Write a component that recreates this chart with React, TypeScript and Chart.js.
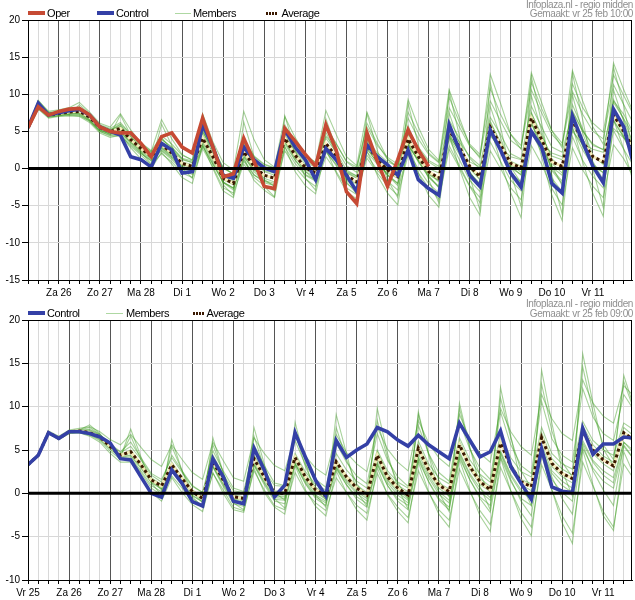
import React, { useEffect, useRef } from 'react';
import { Chart, registerables } from 'chart.js';

Chart.register(...registerables);

const FONT = '"Liberation Sans", Arial, Helvetica, sans-serif';

// ---------- axis labels ----------
const DAY_LABELS = ['Vr 25', 'Za 26', 'Zo 27', 'Ma 28', 'Di 1', 'Wo 2', 'Do 3', 'Vr 4', 'Za 5', 'Zo 6', 'Ma 7', 'Di 8', 'Wo 9', 'Do 10', 'Vr 11'];
const Y_TICK_STEP = 5;

// ---------- top panel (run vr 25 feb 10:00, first value Vr 25 06:00, 6-hourly) ----------
const TOP_OPER = [5.5, 8.3, 7.2, 7.7, 8.0, 8.1, 7.2, 5.6, 5.0, 4.8, 4.8, 3.4, 1.6, 4.3, 4.8, 2.9, 2.1, 6.8, 2.9, -1.1, -0.7, 4.1, 1.0, -2.4, -2.7, 5.4, 3.7, 1.9, 0.3, 5.9, 2.5, -3.1, -4.7, 4.8, 1.0, -2.4, 1.2, 5.2, 2.5, 0.3];
const TOP_CONTROL = [5.5, 8.8, 7.2, 7.5, 7.8, 8.0, 7.2, 5.6, 5.0, 4.5, 1.6, 1.2, 0.2, 3.4, 2.5, -0.6, -0.4, 5.9, 2.9, -0.9, -1.3, 2.9, 1.2, 0.1, -0.4, 5.2, 2.9, 1.2, -1.5, 2.7, 1.2, -0.9, -3.1, 3.2, 1.6, 0.5, -0.9, 2.5, -1.5, -2.7, -3.6, 5.9, 2.5, -0.9, -2.4, 5.2, 2.5, -0.6, -2.5, 5.0, 2.9, -2.0, -3.3, 7.1, 3.6, 0.3, -1.9, 8.0, 5.6, 0.3];
const TOP_AVERAGE = [5.5, 8.5, 7.2, 7.4, 7.6, 7.7, 6.9, 5.5, 5.0, 5.4, 3.9, 2.7, 1.6, 3.2, 2.1, 0.7, 0.3, 4.1, 1.6, -1.3, -2.0, 2.3, 0.3, -0.9, -1.3, 4.1, 1.8, 0.1, -0.6, 3.4, 1.6, -0.9, -1.8, 3.2, 1.2, -0.2, -1.1, 4.0, 1.6, -0.4, -1.3, 5.2, 2.9, 0.3, -1.1, 5.6, 3.2, 0.7, 0.1, 6.8, 3.9, 0.9, 0.3, 6.5, 3.6, 1.6, 0.9, 7.2, 5.0, 2.5];

const TOP_M01 = [5.6, 8.9, 7.5, 7.6, 7.9, 8.3, 7.3, 5.9, 5.4, 6.2, 4.6, 3.5, 2.4, 4.4, 3.3, 1.8, 1.2, 5.6, 2.8, 0.2, -0.8, 4.1, 1.7, 0.6, 0.1, 5.9, 3.4, 1.6, 0.9, 5.3, 3.3, 1.0, 0.2, 5.6, 3.1, 1.5, 0.6, 6.8, 4.0, 1.9, 0.8, 8.2, 5.6, 3.0, 1.6, 9.1, 6.4, 3.8, 2.7, 10.6, 7.5, 4.6, 3.1, 10.4, 7.3, 5.0, 4.0, 11.3, 8.6, 5.9];
const TOP_M02 = [5.3, 8.2, 7.0, 7.1, 7.2, 7.1, 6.4, 5.0, 4.5, 4.6, 3.0, 1.8, 0.5, 2.0, 0.9, -0.6, -1.2, 2.7, 0.2, -2.6, -3.3, 0.6, -1.2, -2.3, -3.0, 2.4, 0.2, -1.4, -2.4, 1.6, -0.4, -2.6, -3.5, 1.4, -0.6, -2.3, -3.6, 1.8, -0.6, -2.6, -4.1, 2.6, 0.1, -2.4, -4.6, 2.4, 0.0, -2.6, -4.2, 3.1, 0.6, -2.7, -4.9, 2.8, -0.2, -2.4, -3.9, 3.2, 1.3, -1.2];
const TOP_M03 = [5.5, 8.7, 7.3, 7.4, 7.6, 8.0, 7.1, 5.6, 5.1, 5.9, 4.0, 2.6, 1.3, 4.2, 2.4, 0.4, -0.3, 5.3, 1.9, -1.9, -2.9, 3.3, 0.6, -1.5, -2.4, 5.4, 2.1, -0.4, -1.6, 4.9, 2.0, -1.4, -2.7, 4.6, 1.4, -0.9, -2.3, 5.8, 2.2, -0.9, -2.6, 7.5, 3.4, -0.4, -2.6, 8.4, 4.2, 0.2, -1.9, 9.8, 5.1, 0.4, -2.3, 9.9, 4.8, 0.9, -1.5, 10.6, 6.3, 2.1];
const TOP_M04 = [5.4, 8.4, 7.1, 7.3, 7.5, 7.4, 6.6, 5.2, 4.8, 5.0, 3.6, 2.4, 1.5, 2.8, 1.6, 0.5, 0.3, 3.6, 1.2, -1.1, -1.7, 1.6, -0.2, -1.0, -1.1, 3.6, 1.5, 0.1, -0.4, 3.0, 1.5, -0.5, -1.2, 2.6, 0.9, 0.1, -0.4, 3.1, 1.2, 0.0, -0.6, 4.3, 2.5, 0.9, 0.2, 4.4, 2.8, 1.6, 1.2, 5.2, 3.4, 2.1, 1.6, 5.0, 3.3, 2.6, 2.2, 5.4, 4.1, 3.3];
const TOP_M05 = [5.7, 9.2, 7.6, 7.5, 7.3, 8.6, 7.4, 5.3, 4.6, 7.2, 4.5, 2.2, 0.6, 6.0, 3.1, 0.1, -1.3, 7.2, 2.4, -2.2, -3.6, 6.3, 1.6, -2.4, -3.8, 7.1, 2.6, -1.3, -2.9, 6.7, 2.7, -1.8, -3.4, 7.4, 2.5, -1.5, -3.9, 8.8, 3.2, -1.5, -4.6, 10.4, 4.4, -1.1, -5.6, 11.6, 5.6, -0.6, -5.1, 12.4, 6.2, -0.9, -6.1, 12.8, 6.6, -0.2, -5.2, 13.6, 8.5, 1.4];
const TOP_M06 = [5.5, 8.6, 7.2, 7.5, 7.7, 7.6, 6.8, 5.4, 4.9, 5.2, 3.9, 2.8, 1.9, 3.1, 2.0, 0.9, 0.5, 3.9, 1.8, -0.9, -1.5, 2.6, 0.8, -0.3, -0.6, 4.6, 2.4, 0.8, 0.2, 2.9, 1.3, -0.4, -1.0, 2.2, 0.6, -0.6, -1.3, 3.2, 1.0, -0.8, -1.6, 4.2, 1.9, -0.6, -2.0, 4.6, 2.6, 0.1, -0.8, 6.6, 4.3, 1.7, 1.2, 7.8, 5.1, 3.1, 2.6, 8.9, 6.7, 4.3];
const TOP_M07 = [5.4, 8.3, 7.0, 7.2, 7.4, 7.3, 6.5, 5.1, 4.7, 4.8, 3.4, 2.1, 1.0, 2.5, 1.4, 0.0, -0.4, 3.1, 0.6, -1.9, -2.6, 1.2, -0.8, -1.9, -2.3, 2.9, 0.7, -0.9, -1.7, 2.7, 0.9, -1.6, -2.6, 3.5, 1.6, 0.4, -0.3, 5.1, 2.9, 1.1, 0.3, 6.5, 4.1, 1.4, -0.1, 6.1, 3.6, 1.0, 0.3, 6.0, 3.2, 0.2, -0.9, 5.4, 2.5, 0.3, -0.5, 6.4, 4.2, 1.6];
const TOP_M08 = [5.6, 8.8, 7.4, 7.6, 7.8, 8.0, 7.2, 5.8, 5.3, 5.6, 4.2, 3.0, 1.9, 3.6, 2.5, 1.2, 0.8, 4.6, 2.1, -0.7, -1.3, 2.9, 0.9, -0.4, -0.9, 4.4, 2.2, 0.5, -0.2, 4.1, 2.2, -0.2, -1.0, 4.0, 2.1, 0.9, 0.3, 4.6, 2.6, 0.9, 0.0, 5.4, 3.6, 1.6, 0.4, 6.9, 4.6, 2.0, 1.3, 8.4, 5.6, 2.9, 2.2, 7.6, 5.0, 3.3, 2.5, 9.1, 7.3, 4.6];
const TOP_M09 = [5.4, 8.3, 7.0, 7.2, 7.5, 7.5, 6.6, 5.2, 4.6, 4.9, 3.5, 2.3, 1.2, 2.7, 1.5, 0.2, -0.2, 3.4, 0.9, -1.8, -2.6, 1.7, -0.4, -1.7, -2.2, 3.6, 1.2, -0.8, -1.5, 2.4, 0.4, -2.0, -3.0, 1.8, -0.2, -1.7, -2.9, 2.2, 0.0, -2.0, -3.3, 3.1, 0.4, -2.3, -3.9, 3.6, 1.0, -1.6, -3.0, 4.9, 2.2, -1.3, -3.1, 4.3, 1.1, -1.1, -2.6, 5.1, 2.6, 0.2];
const TOP_M10 = [5.5, 8.5, 7.2, 7.3, 7.6, 7.9, 7.0, 5.6, 5.1, 5.7, 4.3, 3.1, 2.2, 3.9, 2.9, 1.4, 1.0, 4.9, 2.6, 0.1, -0.7, 3.6, 1.6, 0.5, 0.0, 5.0, 2.8, 1.2, 0.5, 4.4, 2.6, 0.4, -0.5, 3.9, 1.8, 0.4, -0.7, 3.6, 1.4, -0.5, -1.6, 4.6, 2.3, 0.0, -1.4, 5.4, 3.0, 0.6, -0.5, 7.4, 4.6, 1.3, 0.1, 8.6, 5.4, 1.8, 0.6, 9.3, 6.6, 3.1];
const TOP_M11 = [5.3, 8.1, 6.9, 7.1, 7.3, 7.2, 6.4, 5.0, 4.4, 4.4, 3.2, 2.0, 1.1, 2.4, 1.2, -0.2, -0.8, 3.0, 0.6, -1.8, -2.7, 1.0, -0.9, -1.6, -2.0, 3.8, 1.5, 0.2, -0.3, 3.2, 1.5, -0.6, -1.3, 3.7, 1.8, 0.1, -0.8, 4.2, 1.8, -0.6, -1.8, 4.0, 1.2, -1.6, -3.1, 5.1, 2.3, -0.6, -1.8, 7.1, 3.5, -0.1, -1.7, 6.4, 3.1, 0.6, -0.6, 7.3, 4.4, 1.8];
const TOP_M12 = [5.6, 8.9, 7.5, 7.7, 7.9, 8.1, 7.2, 5.7, 5.2, 6.0, 4.6, 3.2, 2.1, 4.0, 2.8, 1.3, 0.8, 5.0, 2.6, 0.0, -0.7, 3.4, 1.2, 0.1, -0.3, 5.6, 3.1, 1.1, 0.3, 5.6, 3.4, 0.9, -0.1, 6.1, 3.4, 1.2, 0.1, 7.6, 4.8, 2.1, 0.9, 9.6, 6.2, 3.3, 1.9, 10.8, 7.3, 4.6, 3.1, 11.6, 8.1, 5.1, 3.4, 11.4, 8.2, 6.1, 4.9, 12.6, 9.8, 7.1];
const TOP_M13 = [5.5, 8.6, 7.3, 7.4, 7.6, 7.8, 6.9, 5.5, 4.9, 5.3, 3.7, 2.5, 1.5, 3.0, 1.9, 0.6, 0.1, 3.8, 1.3, -1.4, -2.2, 1.9, -0.1, -1.3, -1.8, 3.3, 1.1, -0.4, -1.2, 2.2, 0.6, -1.3, -2.1, 2.7, 0.8, -0.8, -2.0, 3.3, 0.9, -1.1, -2.4, 5.8, 2.8, 0.1, -1.5, 6.4, 3.4, 0.4, -0.9, 7.6, 4.0, 0.7, -0.6, 6.9, 3.9, 1.6, 0.6, 7.8, 5.3, 2.6];
const TOP_M14 = [5.4, 8.4, 7.1, 7.2, 7.4, 7.5, 6.7, 5.3, 4.9, 5.1, 3.6, 2.6, 1.7, 2.9, 1.8, 0.5, 0.2, 4.3, 1.4, -1.5, -2.1, 2.1, 0.1, -1.0, -1.4, 3.9, 1.5, -0.2, -0.8, 3.3, 1.4, -1.0, -2.0, 2.9, 0.8, -0.9, -2.0, 3.6, 1.1, -1.2, -2.5, 4.7, 2.2, -0.5, -2.2, 5.2, 2.5, -0.6, -2.0, 6.2, 3.3, -0.3, -2.0, 6.1, 3.0, 0.1, -1.8, 6.6, 4.2, 1.3];
const TOP_M15 = [5.2, 8.0, 6.8, 7.0, 7.1, 7.0, 6.2, 4.8, 4.2, 4.5, 2.8, 1.3, 0.0, 2.2, 0.6, -1.2, -2.0, 3.2, 0.0, -3.0, -3.9, 1.5, -1.6, -2.9, -3.9, 3.0, -0.4, -2.3, -3.4, 2.6, -0.6, -3.1, -4.1, 2.4, -0.9, -3.3, -4.9, 3.4, -0.6, -3.6, -5.2, 4.6, 0.0, -3.9, -6.3, 5.6, 0.9, -3.3, -6.6, 6.6, 1.6, -3.6, -7.0, 5.7, 0.9, -3.4, -6.4, 6.6, 2.6, -2.1];
const TOP_M16 = [5.6, 9.1, 7.7, 7.9, 8.2, 8.9, 7.6, 6.1, 5.6, 7.4, 5.2, 3.4, 2.3, 6.6, 4.0, 1.9, 1.1, 7.4, 3.6, 0.8, -0.2, 7.7, 3.9, 1.2, 0.2, 7.0, 4.2, 1.9, 0.8, 7.8, 4.6, 1.6, 0.4, 7.6, 4.1, 1.3, 0.2, 9.3, 5.6, 2.6, 1.1, 10.6, 6.8, 3.1, 1.4, 12.7, 8.8, 4.6, 2.6, 12.9, 8.9, 5.1, 2.8, 13.2, 9.1, 5.6, 3.3, 14.2, 10.6, 7.3];
const TOP_MEMBERS = [TOP_M01, TOP_M02, TOP_M03, TOP_M04, TOP_M05, TOP_M06, TOP_M07, TOP_M08, TOP_M09, TOP_M10, TOP_M11, TOP_M12, TOP_M13, TOP_M14, TOP_M15, TOP_M16];

// ---------- bottom panel (run vr 25 feb 09:00, first value Vr 25 00:00, 6-hourly) ----------
const BOT_CONTROL = [3.3, 4.4, 7.0, 6.35, 7.1, 7.1, 6.9, 6.5, 5.8, 4.0, 3.85, 1.9, 0.0, -0.45, 2.7, 1.15, -0.95, -1.45, 4.0, 1.9, -0.9, -1.2, 5.2, 2.7, -0.4, 0.95, 7.0, 4.2, 1.5, -0.3, 6.1, 4.15, 5.0, 5.7, 7.6, 7.1, 6.15, 5.45, 6.7, 5.6, 4.8, 4.0, 8.1, 6.15, 4.2, 4.8, 7.2, 3.1, 1.15, -0.7, 5.1, 0.75, 0.25, 0.1, 7.5, 4.5, 5.7, 5.7, 6.5, 6.35];
const BOT_AVERAGE = [3.3, 4.4, 7.0, 6.35, 7.1, 7.2, 7.0, 6.5, 5.4, 4.4, 4.8, 3.3, 1.55, 0.85, 3.3, 1.7, 0.2, -0.6, 3.65, 1.55, -0.4, -0.6, 4.0, 1.9, 0.0, 0.0, 4.15, 1.9, 0.4, -0.3, 3.65, 1.9, 0.6, -0.2, 4.4, 1.9, 0.6, -0.2, 5.2, 2.7, 0.95, 0.2, 5.6, 3.1, 1.35, 0.4, 5.8, 3.1, 1.35, 0.75, 6.45, 3.45, 2.3, 1.7, 7.2, 5.0, 3.85, 3.15, 7.0, 6.15];

const BOT_M01 = [3.3, 4.4, 7.0, 6.4, 7.1, 7.2, 7.3, 6.7, 5.6, 4.7, 5.4, 3.9, 2.1, 1.3, 4.4, 2.6, 0.9, 0.1, 4.9, 2.6, 0.6, 0.2, 5.6, 3.2, 1.2, 0.9, 6.1, 3.3, 1.6, 0.7, 5.8, 3.6, 2.0, 1.1, 6.9, 3.8, 1.9, 0.8, 7.8, 4.6, 2.4, 1.4, 8.3, 5.1, 2.9, 1.6, 9.4, 5.6, 3.2, 2.3, 10.6, 6.3, 4.4, 3.6, 12.1, 8.8, 6.9, 6.1, 11.4, 9.6];
const BOT_M02 = [3.2, 4.3, 6.9, 6.2, 6.9, 7.0, 6.7, 6.1, 4.9, 3.9, 3.9, 2.4, 0.6, -0.2, 2.0, 0.6, -0.9, -1.6, 2.3, 0.4, -1.6, -2.0, 2.6, 0.4, -1.4, -1.9, 2.4, 0.2, -1.1, -2.0, 1.8, 0.1, -1.4, -2.3, 2.3, -0.1, -1.6, -2.8, 2.6, 0.1, -1.9, -3.1, 2.8, 0.2, -2.0, -3.6, 3.0, 0.3, -2.2, -3.9, 3.3, 0.4, -2.6, -4.6, 3.6, 0.8, -2.1, -3.9, 3.4, 1.6];
const BOT_M03 = [3.3, 4.4, 7.1, 6.4, 7.2, 7.3, 7.9, 6.9, 5.3, 4.2, 7.4, 4.2, 1.2, -0.2, 6.2, 2.6, -0.4, -1.6, 6.4, 2.4, -1.1, -1.9, 7.6, 3.4, -0.6, -1.7, 8.2, 3.6, -0.2, -1.6, 9.1, 4.6, 0.2, -1.5, 9.8, 4.6, 0.6, -1.8, 9.4, 4.4, 0.1, -2.1, 10.4, 5.4, 0.8, -1.9, 12.2, 6.6, 1.1, -1.4, 14.2, 8.1, 2.6, -0.3, 16.1, 10.4, 5.1, 3.2, 13.6, 9.9];
const BOT_M04 = [3.3, 4.4, 7.0, 6.3, 7.1, 7.2, 7.0, 6.5, 5.4, 4.5, 4.6, 3.3, 1.6, 0.9, 3.0, 1.5, 0.0, -0.7, 3.3, 1.3, -0.6, -0.9, 3.6, 1.6, -0.3, -0.4, 3.8, 1.6, 0.1, -0.7, 3.2, 1.5, 0.2, -0.6, 4.0, 1.5, 0.1, -0.8, 4.6, 2.1, 0.2, -0.8, 4.8, 2.3, 0.6, -0.5, 4.9, 2.2, 0.4, -0.4, 5.6, 2.6, 1.4, 0.6, 6.1, 3.8, 2.6, 1.8, 5.9, 4.9];
const BOT_M05 = [3.4, 4.5, 7.1, 6.5, 7.2, 7.3, 7.4, 6.8, 5.7, 4.8, 5.9, 4.1, 2.3, 1.6, 4.1, 2.4, 0.8, 0.1, 4.4, 2.2, 0.3, 0.1, 4.4, 2.6, 0.9, 0.8, 4.6, 2.5, 1.0, 0.4, 4.6, 2.7, 1.4, 0.6, 5.0, 2.6, 1.3, 0.6, 6.0, 3.4, 1.8, 1.1, 6.4, 3.9, 2.2, 1.3, 6.8, 4.1, 2.5, 1.9, 7.6, 4.6, 3.4, 2.8, 8.3, 6.1, 5.0, 4.4, 8.1, 7.3];
const BOT_M06 = [3.2, 4.3, 6.9, 6.3, 7.0, 7.1, 6.8, 6.2, 5.1, 4.1, 4.1, 2.6, 0.9, 0.2, 2.6, 0.9, -0.6, -1.4, 3.0, 0.8, -1.2, -1.5, 3.2, 1.0, -0.9, -1.2, 3.4, 1.1, -0.6, -1.4, 3.0, 1.0, -0.7, -1.6, 3.4, 0.9, -0.9, -1.9, 4.1, 1.3, -0.8, -1.9, 4.4, 1.6, -0.6, -2.2, 4.6, 1.6, -0.9, -2.6, 5.2, 1.9, -0.6, -2.4, 5.6, 2.6, 0.4, -1.4, 5.6, 3.9];
const BOT_M07 = [3.3, 4.4, 7.0, 6.4, 7.1, 7.2, 7.2, 6.6, 5.5, 4.5, 4.9, 3.4, 1.7, 1.0, 3.6, 1.9, 0.4, -0.4, 3.9, 1.8, -0.2, -0.4, 4.3, 2.1, 0.3, 0.2, 4.4, 2.2, 0.7, -0.1, 3.9, 2.1, 0.9, 0.1, 4.8, 2.3, 0.9, 0.2, 5.5, 3.0, 1.2, 0.5, 6.0, 3.4, 1.7, 0.8, 6.1, 3.4, 1.6, 1.1, 7.0, 4.0, 2.8, 2.1, 7.8, 5.6, 4.3, 3.6, 7.6, 6.6];
const BOT_M08 = [3.3, 4.4, 7.0, 6.3, 7.0, 7.1, 7.1, 6.4, 5.2, 4.3, 4.4, 3.0, 1.3, 0.6, 2.8, 1.2, -0.2, -1.0, 3.1, 1.0, -0.9, -1.2, 3.3, 1.2, -0.7, -0.8, 3.4, 1.2, -0.4, -1.1, 2.8, 1.0, -0.4, -1.2, 3.3, 0.9, -0.6, -1.4, 3.8, 1.4, -0.6, -1.6, 4.1, 1.6, -0.4, -1.4, 4.2, 1.4, -0.6, -1.4, 4.6, 1.6, 0.1, -0.9, 5.2, 2.9, 1.4, 0.6, 5.4, 3.9];
const BOT_M09 = [3.4, 4.5, 7.2, 6.6, 7.3, 7.5, 7.7, 7.1, 6.2, 5.6, 6.8, 5.3, 3.9, 3.1, 5.6, 3.9, 2.4, 1.6, 5.9, 3.8, 1.8, 1.4, 6.4, 4.6, 3.2, 2.6, 6.6, 4.3, 2.9, 2.1, 6.8, 4.7, 3.4, 2.5, 7.6, 5.1, 3.6, 2.6, 8.4, 5.8, 4.1, 3.1, 9.1, 6.3, 4.6, 3.6, 9.8, 7.1, 5.4, 4.4, 11.4, 8.6, 6.9, 6.1, 13.1, 10.4, 8.9, 8.1, 12.4, 11.2];
const BOT_M10 = [3.3, 4.4, 7.0, 6.4, 7.1, 7.2, 7.1, 6.5, 5.3, 4.4, 4.7, 3.2, 1.5, 0.7, 3.2, 1.6, 0.1, -0.6, 3.6, 1.4, -0.5, -0.7, 3.9, 1.7, -0.2, -0.2, 4.0, 1.7, 0.2, -0.5, 3.5, 1.7, 0.5, -0.4, 4.2, 1.6, 0.4, -0.6, 5.1, 2.4, 0.6, -0.3, 5.4, 2.8, 1.0, 0.2, 5.8, 2.8, 1.0, 0.3, 6.2, 3.1, 1.9, 1.2, 7.0, 4.6, 3.4, 2.6, 6.8, 5.9];
const BOT_M11 = [3.2, 4.3, 6.9, 6.2, 6.9, 7.0, 6.6, 5.9, 4.6, 3.6, 3.6, 2.0, 0.1, -0.9, 1.8, 0.1, -1.3, -2.1, 2.4, 0.0, -1.9, -2.2, 2.9, 0.1, -1.6, -2.4, 3.2, 0.4, -1.5, -2.6, 2.6, 0.1, -1.9, -3.1, 3.0, -0.2, -2.1, -3.4, 3.6, 0.2, -2.4, -3.9, 3.9, 0.4, -2.6, -4.4, 4.1, 0.3, -2.9, -4.9, 4.4, 0.4, -3.4, -5.8, 5.0, 1.0, -2.6, -4.3, 4.8, 2.1];
const BOT_M12 = [3.3, 4.4, 7.0, 6.3, 7.1, 7.2, 7.0, 6.4, 5.4, 4.4, 5.0, 3.4, 1.8, 1.0, 3.4, 1.8, 0.3, -0.4, 3.7, 1.6, -0.4, -0.6, 4.1, 1.9, 0.1, 0.1, 4.2, 1.9, 0.4, -0.3, 3.7, 1.9, 0.6, -0.2, 4.5, 2.0, 0.7, -0.1, 5.3, 2.7, 1.0, 0.3, 5.7, 3.1, 1.4, 0.5, 5.9, 3.2, 1.4, 0.9, 6.6, 3.6, 2.4, 1.8, 7.3, 5.1, 4.0, 3.3, 7.1, 6.3];
const BOT_M13 = [3.3, 4.4, 7.0, 6.4, 7.2, 7.3, 7.6, 6.8, 5.3, 4.3, 6.6, 3.9, 1.6, 0.4, 5.4, 2.6, 0.2, -1.0, 5.6, 2.4, -0.6, -1.2, 6.6, 2.9, 0.1, -0.8, 7.0, 3.1, 0.5, -0.7, 7.6, 3.9, 1.1, -0.4, 8.4, 4.1, 1.2, -0.6, 9.1, 4.6, 1.5, -0.4, 9.8, 5.3, 2.1, 0.1, 11.0, 6.4, 2.6, 0.6, 12.6, 7.2, 3.6, 1.9, 14.6, 9.4, 5.6, 3.9, 12.9, 9.6];
const BOT_M14 = [3.3, 4.4, 7.0, 6.3, 7.0, 7.1, 6.9, 6.3, 5.2, 4.2, 4.3, 2.9, 1.2, 0.5, 2.7, 1.1, -0.3, -1.0, 3.1, 1.1, -0.8, -1.1, 3.4, 1.3, -0.5, -0.6, 3.5, 1.4, -0.2, -0.9, 3.0, 1.3, 0.0, -0.9, 3.6, 1.2, -0.2, -1.1, 4.2, 1.8, -0.1, -1.1, 4.6, 2.1, 0.2, -0.8, 4.7, 2.0, 0.1, -0.6, 5.1, 2.3, 0.9, 0.1, 5.8, 3.6, 2.1, 1.2, 5.9, 4.6];
const BOT_MEMBERS = [BOT_M01, BOT_M02, BOT_M03, BOT_M04, BOT_M05, BOT_M06, BOT_M07, BOT_M08, BOT_M09, BOT_M10, BOT_M11, BOT_M12, BOT_M13, BOT_M14];

// ---------- styles ----------
const X_MAX = 58.8;
const OPER_COLOR = '#c64a34';
const CONTROL_COLOR = '#3440a6';
const MEMBER_COLOR = 'rgba(60,155,30,0.45)';
const AVG_DASH_COLOR = '#3a1800';
const AVG_BACK_COLOR = 'rgba(255,238,190,0.9)';
const DAY_GRID = '#555555';
const LIGHT_GRID = '#d8d8d8';

type PanelProps = {
  members: number[][];
  control: number[];
  average: number[];
  oper?: number[];
  yMin: number;
  yMax: number;
  shift: number; // steps (6h) from last midnight at index 0
};

function Panel({ members, control, average, oper, yMin, yMax, shift }: PanelProps) {
  const ref = useRef<HTMLCanvasElement | null>(null);

  useEffect(() => {
    if (!ref.current) return;
    const xy = (arr: number[]) => arr.map((v, i) => ({ x: i, y: v }));
    const line = (arr: number[], color: string, width: number, order: number, extra: any = {}) => ({
      data: xy(arr),
      borderColor: color,
      backgroundColor: color,
      borderWidth: width,
      pointRadius: 0,
      pointHoverRadius: 0,
      tension: 0,
      fill: false,
      clip: 0,
      order,
      ...extra,
    });
    const datasets: any[] = [];
    if (oper) datasets.push(line(oper, OPER_COLOR, 3.6, 0));
    datasets.push(line(control, CONTROL_COLOR, 3.6, 1));
    datasets.push(line(average, AVG_DASH_COLOR, 3, 2, { borderDash: [3, 3] }));
    datasets.push(line(average, AVG_BACK_COLOR, 3, 3));
    members.forEach((m) => datasets.push(line(m, MEMBER_COLOR, 1.1, 10)));

    const isDay = (v: number) => (Math.round(v) + shift) % 4 === 0;

    const framePlugin = {
      id: 'frame',
      afterDatasetsDraw(chart: any) {
        const { ctx, chartArea: a, scales } = chart;
        const y0 = scales.y.getPixelForValue(0);
        ctx.save();
        ctx.strokeStyle = '#000';
        ctx.lineWidth = 3;
        ctx.beginPath();
        ctx.moveTo(a.left, y0);
        ctx.lineTo(a.right, y0);
        ctx.stroke();
        ctx.lineWidth = 1;
        ctx.strokeRect(Math.round(a.left) + 0.5, Math.round(a.top) + 0.5, Math.round(a.right - a.left) - 1, Math.round(a.bottom - a.top));
        ctx.restore();
      },
    };

    const chart = new Chart(ref.current, {
      type: 'line',
      data: { datasets },
      options: {
        animation: false,
        responsive: false,
        maintainAspectRatio: false,
        events: [],
        layout: { padding: { top: 20, right: 3, left: 0, bottom: 0 } },
        plugins: { legend: { display: false }, tooltip: { enabled: false } },
        scales: {
          x: {
            type: 'linear',
            min: 0,
            max: X_MAX,
            afterFit: (s: any) => {
              s.height = 20;
            },
            ticks: {
              stepSize: 1,
              autoSkip: false,
              maxRotation: 0,
              minRotation: 0,
              includeBounds: false,
              padding: 3,
              color: '#000',
              font: { family: FONT, size: 10 },
              callback: (v: any) => {
                const n = Math.round(Number(v));
                if (!isDay(n)) return '';
                const d = (n + shift) / 4;
                return DAY_LABELS[d] ?? '';
              },
            },
            grid: {
              color: (c: any) => (c.tick && isDay(c.tick.value) ? DAY_GRID : LIGHT_GRID),
              lineWidth: 1,
              tickLength: 4,
              tickColor: '#000',
              drawTicks: true,
            },
            border: { display: true, color: '#000', width: 1 },
          },
          y: {
            type: 'linear',
            min: yMin,
            max: yMax,
            afterFit: (s: any) => {
              s.width = 28;
            },
            ticks: {
              stepSize: Y_TICK_STEP,
              padding: 2,
              color: '#000',
              font: { family: FONT, size: 10 },
              callback: (v: any) => String(v),
            },
            grid: {
              color: LIGHT_GRID,
              lineWidth: 1,
              tickLength: 6,
              tickColor: '#000',
            },
            border: { display: true, color: '#000', width: 1 },
          },
        },
      } as any,
      plugins: [framePlugin],
    });
    return () => chart.destroy();
  }, []);

  return <canvas ref={ref} width={635} height={300} style={{ display: 'block', width: 635, height: 300 }} />;
}

function Txt({ left, right, baseline, size, color, children }: any) {
  const asc = size * 0.905;
  const content = size * 1.117;
  const top = baseline - ((size - content) / 2 + asc);
  const style: any = {
    position: 'absolute',
    top,
    fontSize: size,
    lineHeight: `${size}px`,
    fontFamily: FONT,
    whiteSpace: 'nowrap',
    letterSpacing: '-0.4px',
    color: color || '#000',
  };
  if (right !== undefined) {
    style.right = right;
    style.textAlign = 'right';
  } else style.left = left;
  return <div style={style}>{children}</div>;
}

function Swatch({ left, top, width, height, color }: any) {
  return <div style={{ position: 'absolute', left, top, width, height, background: color }} />;
}

function Dots({ left, top }: any) {
  return (
    <div
      style={{
        position: 'absolute',
        left,
        top,
        width: 11,
        height: 3,
        background: `repeating-linear-gradient(90deg, ${AVG_DASH_COLOR} 0px, ${AVG_DASH_COLOR} 2px, transparent 2px, transparent 3px)`,
      }}
    />
  );
}

export default function App() {
  return (
    <div style={{ position: 'absolute', left: 0, top: 0, width: 635, height: 600, background: '#fff', overflow: 'hidden' }}>
      <div style={{ position: 'absolute', left: 0, top: 0 }}>
        <Panel members={TOP_MEMBERS} control={TOP_CONTROL} average={TOP_AVERAGE} oper={TOP_OPER} yMin={-15} yMax={20} shift={1} />
      </div>
      <div style={{ position: 'absolute', left: 0, top: 300 }}>
        <Panel members={BOT_MEMBERS} control={BOT_CONTROL} average={BOT_AVERAGE} yMin={-10} yMax={20} shift={0} />
      </div>

      {/* top legend */}
      <Swatch left={28} top={11} width={17} height={4} color={OPER_COLOR} />
      <Txt left={47} baseline={17.3} size={11}>Oper</Txt>
      <Swatch left={97} top={11} width={17} height={4} color={CONTROL_COLOR} />
      <Txt left={116} baseline={17.3} size={11}>Control</Txt>
      <Swatch left={175} top={13} width={16} height={1} color="rgba(120,190,100,0.6)" />
      <Txt left={193} baseline={17.3} size={11}>Members</Txt>
      <Dots left={266} top={12} />
      <Txt left={281.5} baseline={17.3} size={11}>Average</Txt>
      <Txt right={2} baseline={8} size={10} color="#8f8f8f">Infoplaza.nl - regio midden</Txt>
      <Txt right={2} baseline={17.5} size={10} color="#8f8f8f">Gemaakt: vr 25 feb 10:00</Txt>

      {/* bottom legend */}
      <Swatch left={28} top={311} width={17} height={4} color={CONTROL_COLOR} />
      <Txt left={47} baseline={317.3} size={11}>Control</Txt>
      <Swatch left={106} top={313} width={17} height={1} color="rgba(120,190,100,0.6)" />
      <Txt left={126} baseline={317.3} size={11}>Members</Txt>
      <Dots left={193} top={312} />
      <Txt left={206.5} baseline={317.3} size={11}>Average</Txt>
      <Txt right={2} baseline={307.5} size={10} color="#8f8f8f">Infoplaza.nl - regio midden</Txt>
      <Txt right={2} baseline={317.3} size={10} color="#8f8f8f">Gemaakt: vr 25 feb 09:00</Txt>
    </div>
  );
}
